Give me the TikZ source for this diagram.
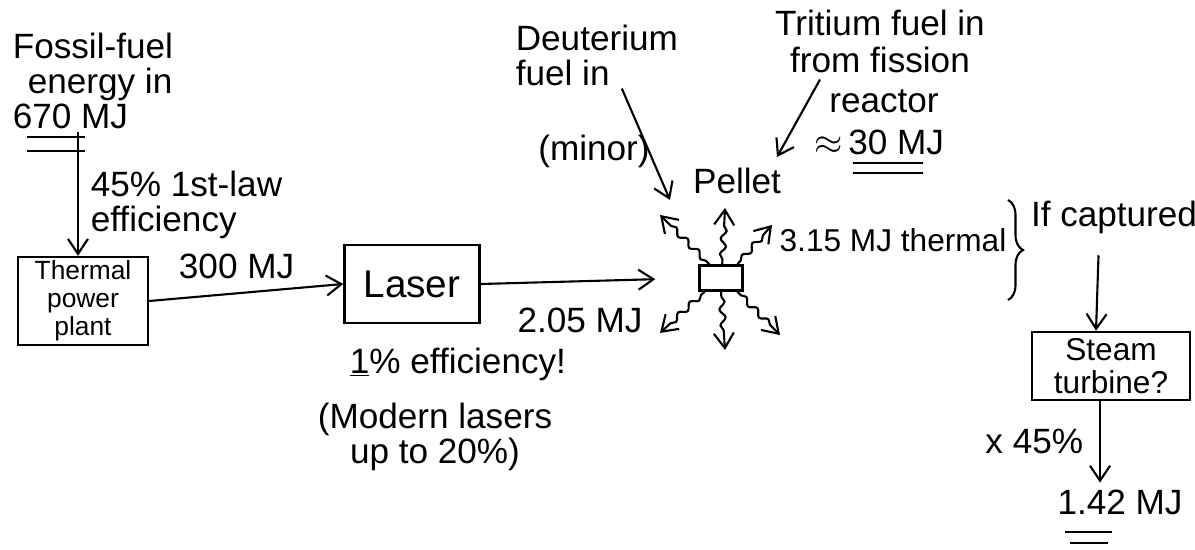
\documentclass[tikz,border=0pt]{standalone}
\usepackage{fontspec}
\setmainfont{Liberation Sans}
\usetikzlibrary{arrows.meta,decorations.pathmorphing,decorations.pathreplacing}

\begin{document}
\begin{tikzpicture}[x=0.02cm, y=-0.02cm, line width=1.2pt, >={Straight Barb[length=3mm,width=4mm]},
  every node/.style={font=\fontsize{20}{20}\selectfont},
  box/.style={draw, line width=1.4pt, align=center, inner sep=0pt},
  txt/.style={align=left, inner sep=1pt},
  wave/.style={->, decorate, decoration={snake, amplitude=1.6pt, segment length=9pt, pre length=1mm, post length=2.5mm}}]
  \useasboundingbox (0,0) rectangle (1195,550);
  \node[txt, anchor=north west] (fossil) at (10,30) {Fossil-fuel\\\hspace{0.3cm}energy in\\670 MJ};
  \draw (27,137) -- (85,137);
  \draw (27,151) -- (85,151);
  \node[box, minimum width=2.6cm, minimum height=1.76cm, font=\fontsize{15}{16}\selectfont] (plant) at (83,301) {Thermal\\power\\plant};
  \draw[->] ([xshift=-0.1cm]plant.north |- fossil.south) -- ([xshift=-0.1cm]plant.north);
  \node[txt, anchor=north west] (eff) at (88,168) {45\% 1st-law\\efficiency};
  \node[box, minimum width=2.7cm, minimum height=1.56cm, font=\fontsize{22}{22}\selectfont] (laser) at (412,284) {Laser};
  \draw[->] (plant.east) -- node[pos=0.45, above=0.15cm] (e300) {300 MJ} (laser.west);
  \node[box, minimum width=0.86cm, minimum height=0.5cm] (pellet) at (721,278) {};
  \draw[->, shorten >=0.86cm] (laser.east) -- (pellet.west);
  \node (e205) at (580,320) {2.05 MJ};
  \node[txt, anchor=north west] (lasereff) at (347,345) {\underline{1}\% efficiency!};
  \node[align=center] (modern) at (435,437) {(Modern lasers\\up to 20\%)};
  % fuel in
  \node[txt, anchor=north west] (deut) at (513,22) {Deuterium\\fuel in};
  \coordinate (dtip) at (670,200);
  \draw[->] ([xshift=0.5cm]deut.south) -- (dtip);
  \node (minor) at (594,151) {(minor)};
  \node[align=center, anchor=north, font=\fontsize{20}{21}\selectfont] (trit) at (880,3) {Tritium fuel in\\from fission};
  \node (reactor) at (884,101) {reactor};
  \coordinate (ttip) at (777,157);
  \draw[->] ([xshift=-1.2cm]trit.south) -- (ttip);
  \node (e30) at (879,142) {$\approx$\,30 MJ};
  \draw (853,163) -- (923,163);
  \draw (853,173) -- (923,173);
  \node (plabel) at (737,181) {Pellet};
  % energy out
  \foreach \a/\x/\y in {130/660/215, 85/725/208, 40/772/225, 220/660/333, 270/725/350, 320/780/335}
    \draw[wave] (pellet.\a) -- (\x,\y);
  \node[font=\fontsize{18}{18}\selectfont] (thermal) at (893,240) {3.15 MJ thermal};
  \draw[decorate, decoration={brace, amplitude=0.3cm}] (1008,200) -- (1008,300);
  \node (capture) at (1114,217) {If captured};
  \node[box, minimum width=3.16cm, minimum height=1.36cm, font=\fontsize{18}{19}\selectfont] (steam) at (1111,366) {Steam\\turbine?};
  \draw[->, shorten <=0.3cm] ([xshift=-0.3cm]capture.south) -- ([xshift=-0.3cm]steam.north);
  \node (result) at (1120,502) {1.42 MJ};
  \draw[->] ([xshift=-0.22cm]steam.south) -- node[left=0.2cm] (pct) {x 45\%} ([xshift=-0.22cm]steam.south |- result.north);
  \draw (1065,532) -- (1112,532);
  \draw (1070,543) -- (1108,543);
\end{tikzpicture}
\end{document}
